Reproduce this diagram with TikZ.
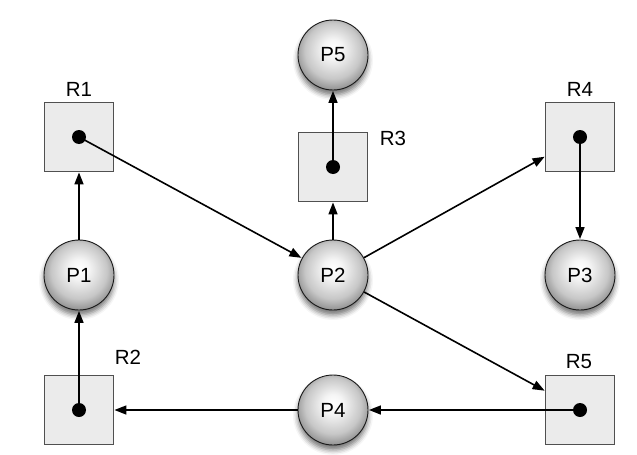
\documentclass[tikz,border=0pt]{standalone}
\usepackage{fontspec}
\setmainfont{Liberation Sans}
\usetikzlibrary{arrows.meta,shadows.blur}
\definecolor{resfill}{HTML}{EBEBEB}
\definecolor{resdraw}{HTML}{505050}
\pgfdeclareradialshading{procball}{\pgfpoint{0bp}{5bp}}{%
  color(0bp)=(white); color(7bp)=(white!96!black); color(20bp)=(white!78!black);
  color(29bp)=(white!52!black); color(50bp)=(white!45!black)}
\begin{document}
\begin{tikzpicture}[x=1pt,y=-1pt,
  res/.style={shape=rectangle, draw=resdraw, fill=resfill, line width=0.9pt,
    minimum size=69pt, inner sep=0pt},
  resdot/.style={circle, fill=black, minimum size=14pt, inner sep=0pt},
  proc/.style={circle, draw=black!90, line width=0.9pt, minimum size=70pt, inner sep=0pt,
    shading=procball,
    blur shadow={shadow xshift=0pt, shadow yshift=-5pt, shadow blur radius=5pt, shadow opacity=55},
    font=\fontsize{20.5}{24}\selectfont},
  lbl/.style={font=\fontsize{20.5}{24}\selectfont, inner sep=0pt},
  conn/.style={-{Triangle[length=12pt,width=9pt]}, line width=1.6pt, shorten >=0.5pt}
]
\useasboundingbox (0,0) rectangle (637,455);

% resources
\node[res] (r1) at (79,137) {};
\node[res] (r3) at (333,167) {};
\node[res] (r4) at (580,137) {};
\node[res] (r2) at (79,410) {};
\node[res] (r5) at (580,410) {};
\node[resdot] (r1d) at (r1.center) {};
\node[resdot] (r3d) at (r3.center) {};
\node[resdot] (r4d) at (r4.center) {};
\node[resdot] (r2d) at (r2.center) {};
\node[resdot] (r5d) at (r5.center) {};

\node[lbl] (l1) at (79,89) {R1};
\node[lbl] (l3) at (393,138) {R3};
\node[lbl] (l4) at (580,89) {R4};
\node[lbl] (l2) at (128,357) {R2};
\node[lbl] (l5) at (579,362) {R5};

% processes
\node[proc] (p5) at (333,55) {P5};
\node[proc] (p1) at (79,275) {P1};
\node[proc] (p2) at (333,275) {P2};
\node[proc] (p3) at (580,275) {P3};
\node[proc] (p4) at (333,410) {P4};

% connectors
\draw[conn] (r1d.center) -- (p2);
\draw[conn] (p1) -- (r1);
\draw[conn] (r2d.center) -- (p1);
\draw[conn] (p2) -- (r3);
\draw[conn] (r3d.center) -- (p5);
\draw[conn] (p2) -- (r4);
\draw[conn] (r4d.center) -- (p3);
\draw[conn] (p2) -- (r5);
\draw[conn] (r5d.center) -- (p4);
\draw[conn] (p4) -- (r2);
\end{tikzpicture}
\end{document}
